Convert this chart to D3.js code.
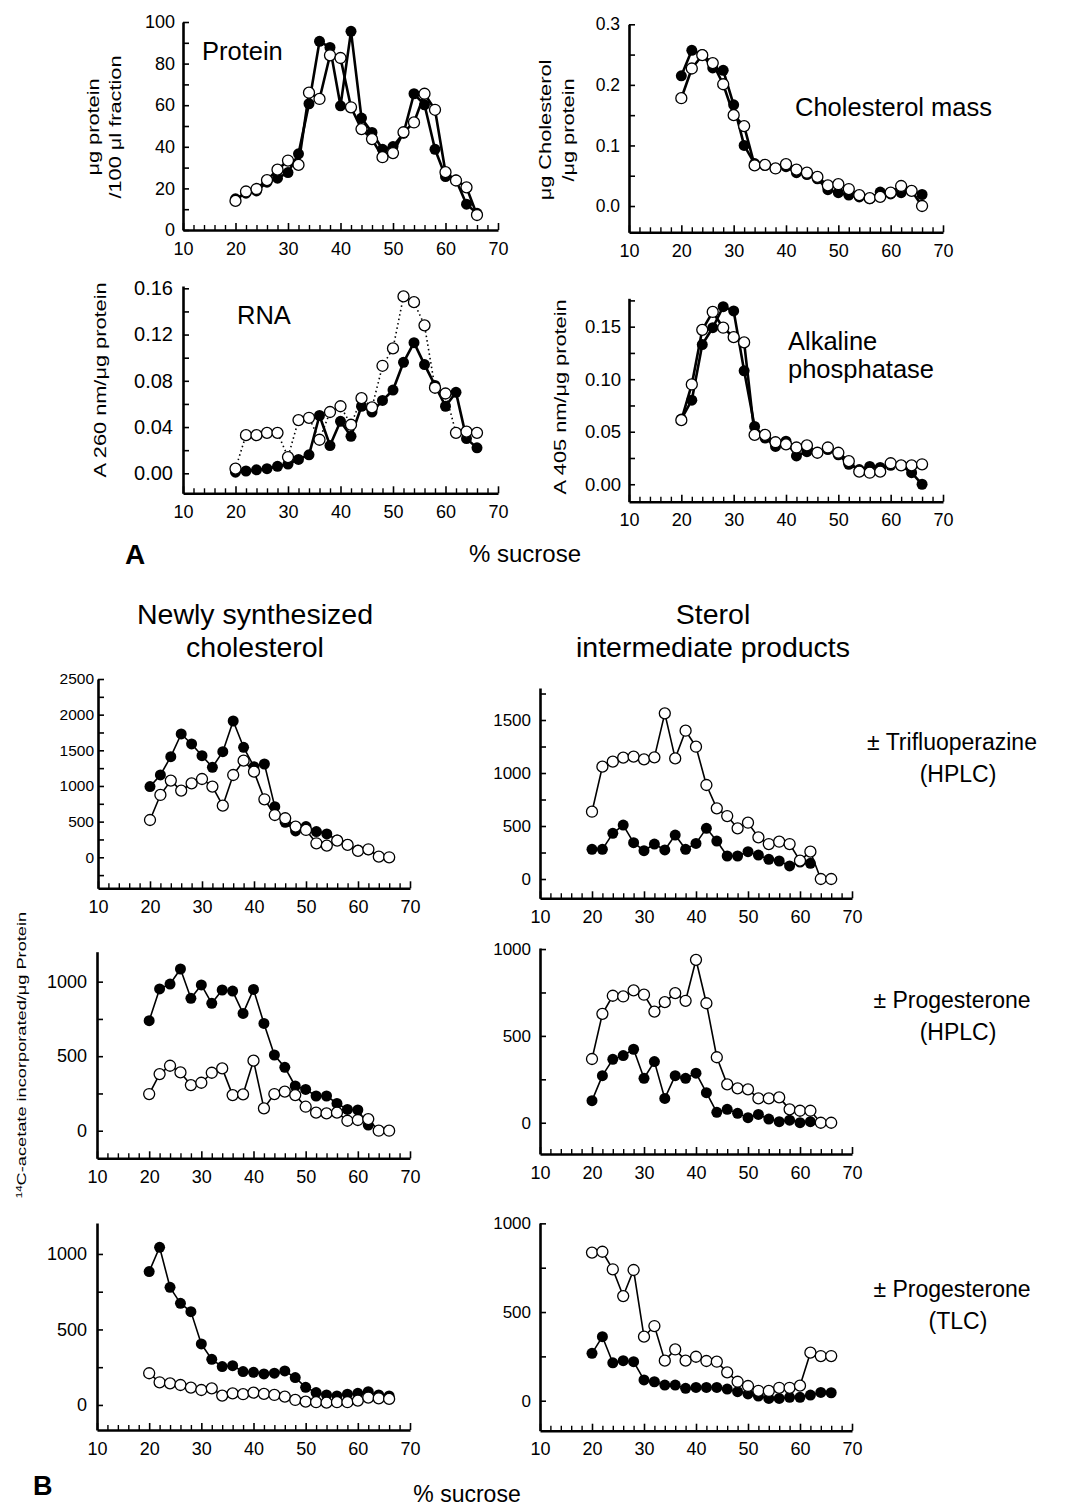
<!DOCTYPE html>
<html><head><meta charset="utf-8">
<script src="https://cdn.jsdelivr.net/npm/d3@7"></script>
<style>
body{margin:0;background:#fff}
svg{display:block;background:#fff}
text{font-family:"Liberation Sans",Arial,Helvetica,sans-serif;fill:#000}
</style>
</head><body>
<svg id="c" width="1065" height="1507"></svg>
<script>
// ---------- DATA ----------
const sucrose = [20,22,24,26,28,30,32,34,36,38,40,42,44,46,48,50,52,54,56,58,60,62,64,66];
const xTickLabels = [10,20,30,40,50,60,70];

// Panel A
const proteinFilled = [15,17.7,18.8,23,24.9,27.6,36.6,60.7,90.7,87.8,59.7,95.5,53.8,46.9,38.8,40.1,46.5,65.5,60.2,38.8,25.7,24,12.4,8];
const proteinOpen   = [14,18.5,19.7,24,29,33.4,31.3,66,63,84,82.7,59,48.5,43.7,35,37,47,51.7,65.5,57.8,27.8,23.8,20.5,7.2];
const proteinTicks  = [0,20,40,60,80,100];

const cholFilled = [0.215,0.257,0.25,0.228,0.224,0.167,0.100,0.070,0.067,0.062,0.065,0.055,0.052,0.045,0.027,0.022,0.018,0.015,0.012,0.023,0.020,0.022,0.025,0.019];
const cholOpen   = [0.178,0.227,0.249,0.236,0.201,0.150,0.132,0.067,0.068,0.062,0.069,0.060,0.055,0.048,0.034,0.036,0.028,0.018,0.013,0.015,0.022,0.033,0.025,0.000];
const cholTicks  = [0,0.1,0.2,0.3];

const rnaFilled = [0.001,0.002,0.003,0.004,0.006,0.008,0.012,0.016,0.050,0.024,0.045,0.032,0.058,0.053,0.063,0.072,0.096,0.113,0.094,0.076,0.058,0.070,0.030,0.022];
const rnaOpen   = [0.004,0.033,0.033,0.035,0.035,0.014,0.046,0.048,0.029,0.053,0.058,0.042,0.065,0.057,0.093,0.108,0.153,0.148,0.128,0.074,0.069,0.035,0.036,0.035];
const rnaTicks  = [0,0.04,0.08,0.12,0.16];

const alpFilled = [0.062,0.080,0.133,0.149,0.169,0.165,0.108,0.055,0.044,0.036,0.041,0.027,0.031,0.030,0.033,0.028,0.019,0.014,0.017,0.016,0.018,0.018,0.011,0.000];
const alpOpen   = [0.061,0.095,0.147,0.164,0.149,0.140,0.135,0.047,0.047,0.040,0.038,0.035,0.037,0.030,0.035,0.030,0.022,0.012,0.011,0.012,0.020,0.018,0.018,0.019];
const alpTicks  = [0,0.05,0.10,0.15];

// Panel B
const trifNewFilled = [991,1154,1411,1729,1589,1425,1262,1481,1911,1542,1271,1308,710,491,369,430,360,327,243,180,103,105,null,null];
const trifNewOpen   = [523,874,1075,935,1037,1098,991,724,1154,1355,1201,813,593,547,430,383,196,164,234,173,89,112,9,0];
const trifNewTicks  = [0,500,1000,1500,2000,2500];

const trifSterFilled = [280,280,431,509,343,267,330,274,415,280,336,478,358,217,217,258,226,186,170,123,160,148,null,null];
const trifSterOpen   = [635,1060,1107,1145,1154,1129,1148,1563,1138,1399,1248,887,667,594,478,531,393,330,352,330,173,258,0,0];
const trifSterTicks  = [0,500,1000,1500];

const progNewFilled = [738,951,984,1085,888,978,855,944,937,787,948,720,508,425,300,277,233,233,183,143,139,38,null,null];
const progNewOpen   = [246,380,436,391,306,322,389,418,239,244,470,150,246,262,239,161,121,116,121,67,72,78,0,0];
const progNewTicks  = [0,500,1000];

const progSterFilled = [127,271,365,387,423,256,352,140,271,256,285,173,60,77,54,29,48,21,6,15,0,6,null,null];
const progSterOpen   = [367,627,731,727,762,737,640,694,746,702,938,688,377,221,198,192,140,140,146,77,69,69,0,0];
const progSterTicks  = [0,500,1000];

const tlcNewFilled = [883,1044,779,673,618,404,302,254,260,221,216,205,210,225,181,117,82,66,60,71,77,88,66,60];
const tlcNewOpen   = [210,150,143,132,115,99,110,62,77,71,82,73,66,55,33,22,18,15,18,18,29,49,44,40];
const tlcNewTicks  = [0,500,1000];

const tlcSterFilled = [267,361,214,226,220,117,107,88,88,70,75,75,75,66,51,38,26,13,13,19,19,32,47,45];
const tlcSterOpen   = [835,840,741,590,737,361,421,226,289,226,248,224,220,160,107,83,56,55,73,73,85,271,252,252];
const tlcSterTicks  = [0,500,1000];

// ---------- LAYOUT ----------
const svg = d3.select('#c');
const FONT = '"Liberation Sans",Arial,Helvetica,sans-serif';

const panels = [
  {filled:proteinFilled, open:proteinOpen, ticks:proteinTicks, fmt:d3.format('d'), x0:183, x1:498, yDom:[0,100], yPx:[230,22], A:true, tfs:18, pad:8},
  {filled:cholFilled, open:cholOpen, ticks:cholTicks, fmt:d3.format('.1f'), x0:629, x1:943, yDom:[-0.0434,0.3], yPx:[232.3,24.3], A:true, tfs:17.5, pad:9},
  {filled:rnaFilled, open:rnaOpen, ticks:rnaTicks, fmt:d3.format('.2f'), x0:183, x1:498, yDom:[-0.0173,0.162], yPx:[493.3,286], A:true, dotted:true, tfs:20, pad:10},
  {filled:alpFilled, open:alpOpen, ticks:alpTicks, fmt:d3.format('.2f'), x0:629, x1:943, yDom:[-0.0166,0.177], yPx:[501.7,298.3], A:true, tfs:18.5, pad:8},
  {filled:trifNewFilled, open:trifNewOpen, ticks:trifNewTicks, fmt:d3.format('d'), x0:98, x1:410, yDom:[-435,2500], yPx:[888.3,679], tfs:15.5, pad:4},
  {filled:trifSterFilled, open:trifSterOpen, ticks:trifSterTicks, fmt:d3.format('d'), x0:540, x1:852, yDom:[-182,1802], yPx:[898.3,688], tfs:17, pad:9},
  {filled:progNewFilled, open:progNewOpen, ticks:progNewTicks, fmt:d3.format('d'), x0:97, x1:410, yDom:[-185,1201], yPx:[1158.3,951.7], tfs:18, pad:10},
  {filled:progSterFilled, open:progSterOpen, ticks:progSterTicks, fmt:d3.format('d'), x0:540, x1:852, yDom:[-180,1006], yPx:[1154,948], tfs:17, pad:9},
  {filled:tlcNewFilled, open:tlcNewOpen, ticks:tlcNewTicks, fmt:d3.format('d'), x0:97, x1:410, yDom:[-166,1205], yPx:[1430,1223], tfs:18, pad:10},
  {filled:tlcSterFilled, open:tlcSterOpen, ticks:tlcSterTicks, fmt:d3.format('d'), x0:540, x1:852, yDom:[-169,1002], yPx:[1430.7,1223], tfs:17, pad:9}
];

const xMinor = d3.range(10, 71, 2).filter(v => v % 10 !== 0);

function drawPanel(p){
  const x = d3.scaleLinear().domain([10,70]).range([p.x0,p.x1]);
  const y = d3.scaleLinear().domain(p.yDom).range(p.yPx);
  const yb = p.yPx[0];
  const g = svg.append('g');
  const step = p.ticks[1]-p.ticks[0];
  const lo = Math.min(p.yDom[0],p.yDom[1]), hi = Math.max(p.yDom[0],p.yDom[1]);
  const yMinor = d3.range(p.ticks[0]-step/2, hi+1e-9, step).filter(v => v >= lo-1e-9 && v <= hi+1e-9);

  // y minor ticks (inward)
  g.append('g').attr('transform',`translate(${p.x0},0)`)
    .call(d3.axisLeft(y).tickValues(yMinor).tickSize(-6).tickFormat(''))
    .call(s => s.select('.domain').remove())
    .selectAll('line').attr('stroke-width',1.6);
  // y major
  const ya = g.append('g').attr('transform',`translate(${p.x0},0)`)
    .call(d3.axisLeft(y).tickValues(p.ticks).tickSize(-6).tickSizeOuter(0).tickPadding(p.pad).tickFormat(p.fmt));
  ya.attr('font-size',p.tfs).attr('font-family',FONT);
  ya.select('.domain').attr('stroke-width',2.6);
  ya.selectAll('line').attr('stroke-width',1.6);

  // x minor ticks (inward)
  g.append('g').attr('transform',`translate(0,${yb})`)
    .call(d3.axisBottom(x).tickValues(xMinor).tickSize(-5).tickFormat(''))
    .call(s => s.select('.domain').remove())
    .selectAll('line').attr('stroke-width',1.4);
  // x major
  const xa = g.append('g').attr('transform',`translate(0,${yb})`)
    .call(d3.axisBottom(x).tickValues(xTickLabels).tickSize(-7).tickSizeOuter(0).tickPadding(12).tickFormat(d3.format('d')));
  xa.attr('font-size',18).attr('font-family',FONT);
  xa.select('.domain').attr('stroke-width',2.6);
  xa.selectAll('line').attr('stroke-width',1.6);

  const line = d3.line().x(d => x(d[0])).y(d => y(d[1]));
  const fd = sucrose.map((s,i)=>[s,p.filled[i]]).filter(d=>d[1]!=null);
  const od = sucrose.map((s,i)=>[s,p.open[i]]).filter(d=>d[1]!=null);
  const lw = p.A ? 2.6 : 1.6;
  const r = 5.5;

  g.append('path').datum(fd).attr('d',line).attr('fill','none').attr('stroke','#000').attr('stroke-width',lw).attr('stroke-linejoin','round');
  g.append('g').selectAll('circle').data(fd).join('circle')
    .attr('cx',d=>x(d[0])).attr('cy',d=>y(d[1])).attr('r',r).attr('fill','#000');
  g.append('path').datum(od).attr('d',line).attr('fill','none').attr('stroke','#000')
    .attr('stroke-width', p.dotted ? 1.6 : lw).attr('stroke-dasharray', p.dotted ? '1.5,3' : null).attr('stroke-linejoin','round');
  g.append('g').selectAll('circle').data(od).join('circle')
    .attr('cx',d=>x(d[0])).attr('cy',d=>y(d[1])).attr('r',r).attr('fill','#fff').attr('stroke','#000').attr('stroke-width',1.3);
}
panels.forEach(drawPanel);

// ---------- TEXT ----------
function txt(s, x, y, size, opts={}){
  return svg.append('text').attr('x',x).attr('y',y).attr('font-size',size)
    .attr('text-anchor',opts.anchor||'start').attr('font-weight',opts.bold?'bold':'normal').text(s);
}
function vtxt(s, x, y, size, stretch){
  return svg.append('text').attr('transform',`translate(${x},${y}) rotate(-90) scale(${stretch},1)`)
    .attr('font-size',size).attr('text-anchor','middle').text(s);
}
// A panel labels
txt('Protein',202,60,25.5);
txt('Cholesterol mass',795,116,25.5);
txt('RNA',237,324,25.5);
txt('Alkaline',788,350,25.5);
txt('phosphatase',788,378,25.5);
// A y-labels
vtxt('μg protein',99,127,17,1.28);
vtxt('/100 μl fraction',121,127,17,1.28);
vtxt('μg Cholesterol',551,130,17,1.28);
vtxt('/μg protein',574,130,17,1.28);
vtxt('A 260 nm/μg protein',106,380,17,1.28);
vtxt('A 405 nm/μg protein',566,397,17,1.28);
txt('A',125,564,28,{bold:true});
txt('% sucrose',525,562,24,{anchor:'middle'});

// B titles
txt('Newly synthesized',255,624,28.5,{anchor:'middle'});
txt('cholesterol',255,657,28.5,{anchor:'middle'});
txt('Sterol',713,624,28.5,{anchor:'middle'});
txt('intermediate products',713,657,28.5,{anchor:'middle'});
txt('± Trifluoperazine',952,750,23,{anchor:'middle'});
txt('(HPLC)',958,782,23,{anchor:'middle'});
txt('± Progesterone',952,1008,23,{anchor:'middle'});
txt('(HPLC)',958,1040,23,{anchor:'middle'});
txt('± Progesterone',952,1297,23,{anchor:'middle'});
txt('(TLC)',958,1329,23,{anchor:'middle'});
txt('B',33,1495,27,{bold:true});
txt('% sucrose',467,1502,23,{anchor:'middle'});

// B y-label with superscript
const bl = svg.append('text').attr('transform','translate(26,1055) rotate(-90) scale(1.35,1)')
  .attr('font-size',13.5).attr('text-anchor','middle');
bl.append('tspan').attr('font-size',8.5).attr('dy',-4).text('14');
bl.append('tspan').attr('dy',4).text('C-acetate incorporated/μg Protein');
</script>
</body></html>
